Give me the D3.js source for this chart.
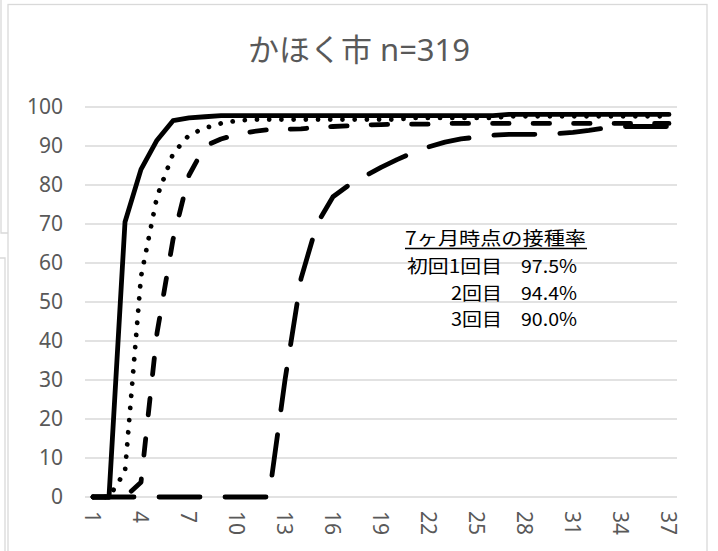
<!DOCTYPE html>
<html>
<head>
<meta charset="utf-8">
<script src="https://cdn.jsdelivr.net/npm/d3@7"></script>
<style>
  body { margin: 0; background: #fff; }
</style>
</head>
<body>
<div id="chart"></div>
<script>
// months since birth (category axis)
var months = [1,2,3,4,5,6,7,8,9,10,11,12,13,14,15,16,17,18,19,20,
              21,22,23,24,25,26,27,28,29,30,31,32,33,34,35,36,37];
// cumulative coverage (%)
var dose1 = [0,0,70.5,84,91.5,96.5,97.2,97.5,97.8,97.8,97.8,97.8,97.8,97.8,97.8,97.8,97.8,97.8,97.8,97.8,
             97.8,97.8,97.8,97.8,97.8,97.8,98.1,98.1,98.1,98.1,98.1,98.1,98.1,98.1,98.1,98.1,98.1];
var dose2 = [0,0,6.5,56.5,77,88,92.8,94.6,95.8,96.5,96.8,96.8,96.8,96.8,96.8,96.8,96.8,96.8,96.8,96.8,
             97.2,97.2,97.2,97.2,97.2,97.2,97.6,97.6,97.6,97.6,97.6,97.6,97.6,97.6,97.6,97.6,97.6];
var dose3 = [0,0,0,3.8,42,66,82.5,90,91.8,93,93.7,94.2,94.3,94.4,94.8,95,95.2,95.4,95.5,95.6,
             95.6,95.6,95.8,95.8,95.8,95.8,95.8,95.8,95.8,95.8,95.8,95.8,95.8,95.8,95.8,95.8,95.8];
var dose4 = [0,0,0,0,0,0,0,0,0,0,0,0,30,56,70,77,80,82.3,84.5,86.5,
             88.3,89.8,91,91.8,92.3,92.8,93,93,93,93.2,93.5,94,94.6,95,95,95,95];

var xTickLabels = [1,4,7,10,13,16,19,22,25,28,31,34,37];
var yTickValues = [0,10,20,30,40,50,60,70,80,90,100];

var titleText = 'かほく市 n=319';
var noteTitle = '7ヶ月時点の接種率';
var noteLabels = ['初回1回目', '2回目', '3回目'];
var notePercents = ['97.5%', '94.4%', '90.0%'];

var W = 718, H = 551;
var plot = { left: 85, right: 677, top: 107, bottom: 497 };
var grey = '#595959';
var gridColor = '#d9d9d9';

var svg = d3.select('#chart').append('svg')
    .attr('width', W)
    .attr('height', H)
    .style('display', 'block');

// frames of the spreadsheet charts
var frame = svg.append('g')
    .attr('fill', 'none')
    .attr('stroke', gridColor)
    .attr('stroke-width', 1.3);
frame.append('path').attr('d', 'M1,0V233H8');
frame.append('path').attr('d', 'M0,258H5V560');
frame.append('rect')
    .attr('x', 8).attr('y', 4.5)
    .attr('width', 699).attr('height', 600);

// scales
var x = d3.scaleBand()
    .domain(months)
    .range([plot.left, plot.right])
    .padding(0);
var y = d3.scaleLinear()
    .domain([0, 100])
    .range([plot.bottom, plot.top]);
var cx = function(m) { return x(m) + x.bandwidth() / 2; };

// grid
svg.append('g')
    .selectAll('line')
    .data(yTickValues)
    .enter().append('line')
    .attr('x1', plot.left)
    .attr('x2', plot.right)
    .attr('y1', function(d) { return y(d); })
    .attr('y2', function(d) { return y(d); })
    .attr('stroke', gridColor)
    .attr('stroke-width', 1.3);

// y axis
var yAxis = svg.append('g')
    .attr('transform', 'translate(63,0)')
    .call(d3.axisLeft(y).tickValues(yTickValues).tickSize(0).tickPadding(0));
yAxis.select('.domain').remove();
yAxis.selectAll('text')
    .attr('fill', grey)
    .attr('font-size', 21)
    .attr('font-family', 'Noto Sans, sans-serif');

// x axis, labels turned clockwise
var xAxis = svg.append('g')
    .attr('transform', 'translate(0,' + plot.bottom + ')')
    .call(d3.axisBottom(x).tickValues(xTickLabels).tickSize(0).tickPadding(0));
xAxis.select('.domain').remove();
xAxis.selectAll('text')
    .attr('x', 14)
    .attr('y', 0)
    .attr('dy', '0.36em')
    .attr('transform', 'rotate(90)')
    .style('text-anchor', 'start')
    .attr('fill', grey)
    .attr('font-size', 21)
    .attr('font-family', 'Noto Sans, sans-serif');

// series
var series = [
    { values: dose4, dash: '41,25' },
    { values: dose3, dash: '16.5,24' },
    { values: dose2, dash: '0.01,12.2' },
    { values: dose1, dash: null }
];
var line = d3.line()
    .x(function(d, i) { return cx(months[i]); })
    .y(function(d) { return y(d); });

svg.append('g')
    .selectAll('path')
    .data(series)
    .enter().append('path')
    .attr('d', function(s) { return line(s.values); })
    .attr('fill', 'none')
    .attr('stroke', '#000')
    .attr('stroke-width', 4.8)
    .attr('stroke-linecap', 'round')
    .attr('stroke-linejoin', 'round')
    .attr('stroke-dasharray', function(s) { return s.dash; });

// title
svg.append('text')
    .attr('x', 359)
    .attr('y', 61)
    .attr('text-anchor', 'middle')
    .attr('fill', grey)
    .attr('font-size', 31)
    .attr('font-family', 'Noto Sans, Noto Sans CJK JP, sans-serif')
    .text(titleText);

// note box
var note = svg.append('g')
    .attr('font-family', 'Noto Sans CJK JP, sans-serif')
    .attr('font-size', 18)
    .attr('fill', '#000');
note.append('text')
    .attr('x', 405)
    .attr('y', 245)
    .attr('textLength', 181)
    .attr('lengthAdjust', 'spacingAndGlyphs')
    .text(noteTitle);
note.append('line')
    .attr('x1', 405).attr('x2', 587)
    .attr('y1', 248.5).attr('y2', 248.5)
    .attr('stroke', '#000')
    .attr('stroke-width', 1.3);

var rowY = [273, 299.7, 326.4];
var labelLen = [95, 51, 51];
note.selectAll('text.lab')
    .data(noteLabels)
    .enter().append('text')
    .attr('class', 'lab')
    .attr('x', 502)
    .attr('y', function(d, i) { return rowY[i]; })
    .attr('text-anchor', 'end')
    .attr('textLength', function(d, i) { return labelLen[i]; })
    .attr('lengthAdjust', 'spacingAndGlyphs')
    .text(function(d) { return d; });
note.selectAll('text.pct')
    .data(notePercents)
    .enter().append('text')
    .attr('class', 'pct')
    .attr('x', 521)
    .attr('y', function(d, i) { return rowY[i]; })
    .attr('textLength', 56)
    .attr('lengthAdjust', 'spacingAndGlyphs')
    .text(function(d) { return d; });
</script>
</body>
</html>
